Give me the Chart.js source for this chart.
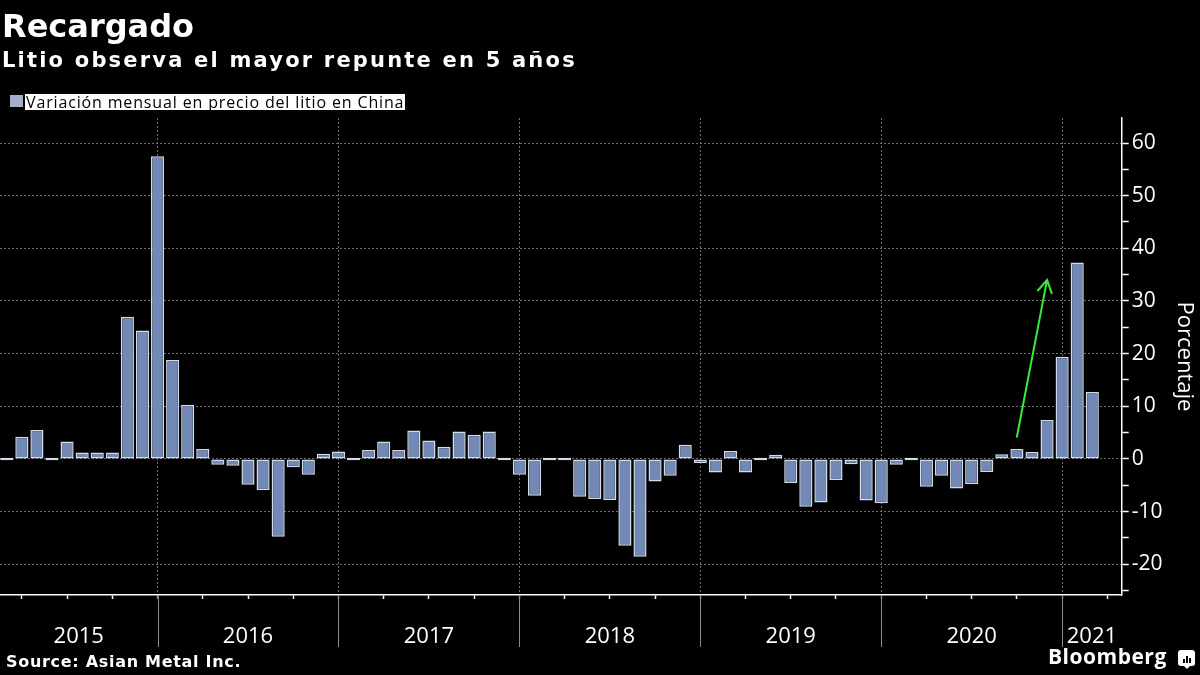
<!DOCTYPE html>
<html>
<head>
<meta charset="utf-8">
<script src="https://cdn.jsdelivr.net/npm/chart.js@4.4.0/dist/chart.umd.min.js"></script>
<style>
html,body{margin:0;background:#000;}
#wrap{position:relative;width:1200px;height:675px;overflow:hidden;font-family:'Open Sans',sans-serif;color:#fff;}
#c{position:absolute;left:0;top:0;}
.t{position:absolute;white-space:nowrap;}
#title{left:2px;top:9.6px;font-family:'DejaVu Sans',sans-serif;font-size:32px;line-height:32px;font-weight:700;}
#sub{left:2px;top:49.9px;font-family:'DejaVu Sans',sans-serif;font-size:21px;line-height:21px;font-weight:700;letter-spacing:2.2px;}
#legsq{position:absolute;left:10px;top:95px;width:13px;height:12px;background:#a2afca;}
#legtext{left:25px;top:94px;height:16px;font-size:16px;line-height:16px;background:#fff;color:#000;padding:0 1px 0 1px;letter-spacing:0.85px;}
#source{left:6px;top:653.8px;font-family:'DejaVu Sans',sans-serif;font-size:16px;line-height:16px;font-weight:700;letter-spacing:0.7px;}
#brand{left:1048px;top:646.4px;font-size:21px;line-height:21px;font-weight:700;letter-spacing:0.5px;}
#logo{position:absolute;left:1178px;top:650px;width:17px;height:16px;background:#fff;border-radius:3px;}
#logo i{position:absolute;bottom:3px;width:2px;background:#000;}
#logo:after{content:"";position:absolute;left:6px;bottom:-3px;border-left:3px solid transparent;border-right:3px solid transparent;border-top:3px solid #fff;}
</style>
</head>
<body>
<div id="wrap">
<canvas id="c" width="1200" height="675"></canvas>
<div class="t" id="title">Recargado</div>
<div class="t" id="sub">Litio observa el mayor repunte en 5 años</div>
<div id="legsq"></div>
<div class="t" id="legtext">Variación mensual en precio del litio en China</div>
<div class="t" id="source">Source: Asian Metal Inc.</div>
<div class="t" id="brand">Bloomberg</div>
<div id="logo"><i style="left:5px;height:4px"></i><i style="left:8px;height:7px"></i><i style="left:11px;height:5px"></i></div>
</div>
<script>
// monthly % change, series starts Feb 2015
const years=["2015","2016","2017","2018","2019","2020","2021"];
const change2015=[0,4.2,5.5,0,3.3,1.2,1.2,1.2,27.0,24.4,57.5];
const change2016=[18.8,10.3,1.9,-1.1,-1.3,-4.9,-5.9,-14.8,-1.6,-3.0,1.0,1.4];
const change2017=[0,1.7,3.3,1.7,5.4,3.5,2.3,5.2,4.6,5.2,0,-3.0];
const change2018=[-7.0,0,0,-7.2,-7.6,-7.8,-16.5,-18.6,-4.3,-3.2,2.7,-0.8];
const change2019=[-2.6,1.5,-2.6,0,0.8,-4.6,-9.1,-8.3,-4.0,-1.0,-7.9,-8.4];
const change2020=[-1.1,0,-5.3,-3.2,-5.6,-4.8,-2.5,0.9,1.9,1.3,7.4,19.4];
const change2021=[37.3,12.7];
const yTicks=[-25,-20,-15,-10,-5,0,5,10,15,20,25,30,35,40,45,50,55,60];
const arrowFrom=[67.0,4.2], arrowTo=[69.0,34.0];

const perYear=[change2015,change2016,change2017,change2018,change2019,change2020,change2021];
const values=perYear.flat();
const points=values.map((v,i)=>({x:i,y:v}));
// December of each full year = year boundary
const boundaries=[];
let n=0;
perYear.slice(0,-1).forEach(a=>{n+=a.length;boundaries.push(n-1);});
const isBoundary=v=>boundaries.includes(v);
const quarterTicks=[];
for(let v=1;v<=74;v+=3) quarterTicks.push(v);

const yearAxis={id:'yearAxis',afterDraw(chart){
  const {ctx,chartArea,scales:{x}}=chart;
  const edges=[chartArea.left,...boundaries.map(b=>x.getPixelForValue(b)),chartArea.right];
  ctx.save();
  ctx.strokeStyle='#8c8c8c';ctx.lineWidth=1;
  boundaries.forEach(b=>{
    const px=Math.round(x.getPixelForValue(b))+0.5;
    ctx.beginPath();ctx.moveTo(px,chartArea.bottom);ctx.lineTo(px,647);ctx.stroke();
  });
  ctx.fillStyle='#fff';ctx.font="22px 'Open Sans'";ctx.textAlign='center';ctx.textBaseline='alphabetic';
  years.forEach((y,i)=>ctx.fillText(y,(edges[i]+edges[i+1])/2,643));
  ctx.restore();
}};

const arrow={id:'arrow',afterDatasetsDraw(chart){
  const {ctx,scales:{x,y}}=chart;
  const x0=x.getPixelForValue(arrowFrom[0]),y0=y.getPixelForValue(arrowFrom[1]);
  const x1=x.getPixelForValue(arrowTo[0]),y1=y.getPixelForValue(arrowTo[1]);
  const a=Math.atan2(y1-y0,x1-x0),L=14,w=Math.PI/6;
  ctx.save();
  ctx.strokeStyle='#3be83b';ctx.lineWidth=2;ctx.lineCap='round';
  ctx.beginPath();ctx.moveTo(x0,y0);ctx.lineTo(x1,y1);
  ctx.moveTo(x1-L*Math.cos(a-w),y1-L*Math.sin(a-w));ctx.lineTo(x1,y1);
  ctx.lineTo(x1-L*Math.cos(a+w),y1-L*Math.sin(a+w));
  ctx.stroke();
  ctx.restore();
}};

new Chart(document.getElementById('c'),{
  type:'bar',
  data:{datasets:[{
    label:'Variación mensual en precio del litio en China',
    data:points,
    backgroundColor:'#7189b4',borderColor:'#d3dae8',borderWidth:1.5,borderSkipped:false,
    barPercentage:0.87,categoryPercentage:1,minBarLength:2.5
  }]},
  options:{
    responsive:false,animation:false,devicePixelRatio:1,
    layout:{padding:{top:118,left:0,right:0,bottom:0}},
    plugins:{legend:{display:false},tooltip:{enabled:false}},
    scales:{
      x:{type:'linear',min:-0.45,max:73.95,offset:false,
        afterBuildTicks(s){s.ticks=quarterTicks.map(v=>({value:v}));},
        afterFit(s){s.height=80;},
        ticks:{display:false,autoSkip:false},
        grid:{offset:false,color:c=>isBoundary(c.tick&&c.tick.value)?'#6e6e6e':'rgba(0,0,0,0)',lineWidth:1,
          tickLength:4,tickWidth:1.5,tickColor:c=>isBoundary(c.tick&&c.tick.value)?'#8c8c8c':'#fff'},
        border:{color:'#fff',width:1.5,dash:[2,2]}
      },
      y:{position:'right',min:-25.85,max:64.75,
        afterBuildTicks(s){s.ticks=yTicks.map(v=>({value:v}));},
        afterFit(s){s.width=78.3;},
        ticks:{color:'#fff',autoSkip:false,padding:3,font:{family:"'Open Sans'",size:21},
          callback:v=>v%10===0?String(v):''},
        grid:{color:c=>(c.tick&&c.tick.value%10===0)?'#6e6e6e':'rgba(0,0,0,0)',lineWidth:1,
          tickLength:7,tickWidth:1.5,tickColor:'#fff'},
        border:{color:'#fff',width:1.5,dash:[2,2]},
        title:{display:true,text:'Porcentaje',color:'#fff',font:{family:"'Open Sans'",size:22},padding:{top:3,bottom:0}}
      }
    }
  },
  plugins:[yearAxis,arrow]
});
</script>
</body>
</html>
